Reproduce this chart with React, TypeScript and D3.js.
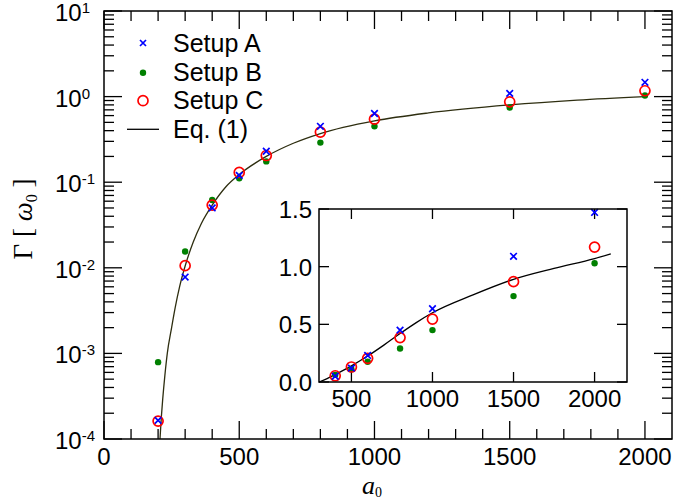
import React from 'react';
import * as d3 from 'd3';

const aValues = [200, 300, 400, 500, 600, 800, 1000, 1500, 2000];
const setupA = [1.65e-4, 0.0078, 0.05, 0.12, 0.23, 0.45, 0.635, 1.09, 1.47];
const setupB = [7.9e-4, 0.0155, 0.062, 0.111, 0.175, 0.29, 0.45, 0.745, 1.03];
const setupC = [1.62e-4, 0.0106, 0.054, 0.13, 0.205, 0.385, 0.545, 0.87, 1.17];

const eqMainA = [207, 212, 217, 225, 234, 250, 263, 280, 300, 330, 360, 400, 450, 500, 600, 700, 800, 1000, 1200, 1500, 1750, 2000];
const eqMainG = [1e-4, 1.8e-4, 2.9e-4, 5.5e-4, 1e-3, 2.0e-3, 3.4e-3, 6.1e-3, 0.0105, 0.02, 0.033, 0.054, 0.088, 0.123, 0.2, 0.285, 0.37, 0.52, 0.645, 0.8, 0.91, 1.0];

const eqInsetA = [300, 350, 400, 500, 600, 700, 800, 900, 1000, 1250, 1500, 1750, 2000, 2100];
const eqInsetG = [0, 0.03, 0.065, 0.14, 0.225, 0.32, 0.42, 0.515, 0.6, 0.755, 0.89, 0.985, 1.07, 1.11];

const mainXTicks = [0, 500, 1000, 1500, 2000];
const mainYExps = [1, 0, -1, -2, -3, -4];
const insetXTicks = [500, 1000, 1500, 2000];
const insetYTicks = [0, 0.5, 1.0, 1.5];
const insetYLabels = ['0.0', '0.5', '1.0', '1.5'];
const legendLabels = ['Setup A', 'Setup B', 'Setup C', 'Eq. (1)'];

const SANS = '"Liberation Sans", Arial, Helvetica, sans-serif';
const SERIF = '"Liberation Serif", "Times New Roman", serif';

const Cross = ({ x, y, s = 3.3 }: { x: number; y: number; s?: number }) => (
  <path d={`M${x - s},${y - s}L${x + s},${y + s}M${x - s},${y + s}L${x + s},${y - s}`} stroke="#0000ff" strokeWidth={1.7} fill="none" />
);
const Dot = ({ x, y }: { x: number; y: number }) => <circle cx={x} cy={y} r={3.2} fill="#008000" />;
const Ring = ({ x, y }: { x: number; y: number }) => (
  <circle cx={x} cy={y} r={5} fill="none" stroke="#ff0000" strokeWidth={1.7} />
);

export default function App() {
  const L = 104, R = 672, T = 11, B = 439;
  const x = d3.scaleLinear().domain([0, 2100]).range([L, R]);
  const y = d3.scaleLog().domain([1e-4, 10]).range([B, T]);

  const iL = 319, iR = 627, iT = 209, iB = 382;
  const ix = d3.scaleLinear().domain([300, 2200]).range([iL, iR]);
  const iy = d3.scaleLinear().domain([0, 1.5]).range([iB, iT]);

  const mainLine = d3
    .line<number>()
    .x((_, i) => x(eqMainA[i]))
    .y((d) => y(d))
    .curve(d3.curveMonotoneX)(eqMainG) as string;

  const insetLine = d3
    .line<number>()
    .x((_, i) => ix(eqInsetA[i]))
    .y((d) => iy(d))
    .curve(d3.curveMonotoneX)(eqInsetG) as string;

  const majorLen = 18, minorLen = 10, iTick = 10;

  const xMinor = d3.range(100, 2100, 100).filter((v) => v % 500 !== 0);
  const yMinor: number[] = [];
  for (let e = -4; e < 1; e++) for (let m = 2; m <= 9; m++) yMinor.push(m * Math.pow(10, e));

  const insetIdx = aValues.map((_, i) => i).filter((i) => aValues[i] > 300);
  const legendY = [43, 72.7, 100.7, 129.3];

  return (
    <svg width={675} height={501} style={{ position: 'absolute', left: 0, top: 0, background: '#fff' }}>
      <defs>
        <clipPath id="mainClip">
          <rect x={L} y={T} width={R - L} height={B - T} />
        </clipPath>
      </defs>
      <rect x={0} y={0} width={675} height={501} fill="#fff" />

      <g stroke="#000" strokeWidth={1.3}>
        {mainXTicks.map((v) => (
          <g key={'mx' + v}>
            <line x1={x(v)} x2={x(v)} y1={B} y2={B - majorLen} />
            <line x1={x(v)} x2={x(v)} y1={T} y2={T + majorLen} />
          </g>
        ))}
        {xMinor.map((v) => (
          <g key={'mnx' + v}>
            <line x1={x(v)} x2={x(v)} y1={B} y2={B - minorLen} />
            <line x1={x(v)} x2={x(v)} y1={T} y2={T + minorLen} />
          </g>
        ))}
        {mainYExps.map((e) => (
          <g key={'my' + e}>
            <line x1={L} x2={L + majorLen} y1={y(Math.pow(10, e))} y2={y(Math.pow(10, e))} />
            <line x1={R} x2={R - majorLen} y1={y(Math.pow(10, e))} y2={y(Math.pow(10, e))} />
          </g>
        ))}
        {yMinor.map((v, i) => (
          <g key={'mny' + i}>
            <line x1={L} x2={L + minorLen} y1={y(v)} y2={y(v)} />
            <line x1={R} x2={R - minorLen} y1={y(v)} y2={y(v)} />
          </g>
        ))}
      </g>

      <path d={mainLine} fill="none" stroke="#2e2e10" strokeWidth={1.3} clipPath="url(#mainClip)" />

      <g clipPath="url(#mainClip)">
        {aValues.map((a, i) => <Dot key={'b' + i} x={x(a)} y={y(setupB[i])} />)}
        {aValues.map((a, i) => <Ring key={'c' + i} x={x(a)} y={y(setupC[i])} />)}
        {aValues.map((a, i) => <Cross key={'a' + i} x={x(a)} y={y(setupA[i])} />)}
      </g>

      <rect x={L} y={T} width={R - L} height={B - T} fill="none" stroke="#000" strokeWidth={1.5} />

      <g fontFamily={SANS} fontSize={24} fill="#000">
        {mainXTicks.map((v) => (
          <text key={'lx' + v} x={x(v)} y={465} textAnchor="middle">{v}</text>
        ))}
        {mainYExps.map((e) => (
          <text key={'ly' + e} x={55} y={y(Math.pow(10, e)) + 10}>
            10
            <tspan fontSize={15} dy={-8}>{e < 0 ? '-' + Math.abs(e) : String(e)}</tspan>
          </text>
        ))}
      </g>

      <text transform="rotate(-90)" x={-219} y={32} textAnchor="middle" fontFamily={SERIF} fontSize={27}>
        Γ [ <tspan fontStyle="italic">ω</tspan>
        <tspan fontSize={16} dy={5}>0</tspan>
        <tspan dy={-5}> ]</tspan>
      </text>
      <text x={362} y={494} fontFamily={SERIF} fontSize={26} fontStyle="italic">
        a<tspan fontSize={14} dy={3} fontStyle="normal">0</tspan>
      </text>

      <g>
        <Cross x={143} y={43} s={3} />
        <Dot x={143} y={72.7} />
        <Ring x={143} y={100.7} />
        <line x1={127} x2={159} y1={129.3} y2={129.3} stroke="#000" strokeWidth={1.3} />
        {legendLabels.map((t, i) => (
          <text key={t} x={173} y={legendY[i] + 8.5} fontFamily={SANS} fontSize={25}>
            {t}
          </text>
        ))}
      </g>

      <rect x={iL} y={iT} width={iR - iL} height={iB - iT} fill="#fff" />
      <g stroke="#000" strokeWidth={1.3}>
        {insetXTicks.map((v) => (
          <g key={'ix' + v}>
            <line x1={ix(v)} x2={ix(v)} y1={iB} y2={iB - iTick} />
            <line x1={ix(v)} x2={ix(v)} y1={iT} y2={iT + iTick} />
          </g>
        ))}
        {insetYTicks.map((v) => (
          <g key={'iy' + v}>
            <line x1={iL} x2={iL + iTick} y1={iy(v)} y2={iy(v)} />
            <line x1={iR} x2={iR - iTick} y1={iy(v)} y2={iy(v)} />
          </g>
        ))}
      </g>
      <path d={insetLine} fill="none" stroke="#000" strokeWidth={1.3} />
      {insetIdx.map((i) => <Dot key={'ib' + i} x={ix(aValues[i])} y={iy(setupB[i])} />)}
      {insetIdx.map((i) => <Ring key={'ic' + i} x={ix(aValues[i])} y={iy(setupC[i])} />)}
      {insetIdx.map((i) => <Cross key={'ia' + i} x={ix(aValues[i])} y={iy(setupA[i])} />)}
      <rect x={iL} y={iT} width={iR - iL} height={iB - iT} fill="none" stroke="#000" strokeWidth={1.5} />
      <g fontFamily={SANS} fontSize={24}>
        {insetXTicks.map((v) => (
          <text key={'ilx' + v} x={ix(v)} y={407} textAnchor="middle">{v}</text>
        ))}
        {insetYTicks.map((v, i) => (
          <text key={'ily' + v} x={iL - 7} y={iy(v) + 9} textAnchor="end">{insetYLabels[i]}</text>
        ))}
      </g>
    </svg>
  );
}
